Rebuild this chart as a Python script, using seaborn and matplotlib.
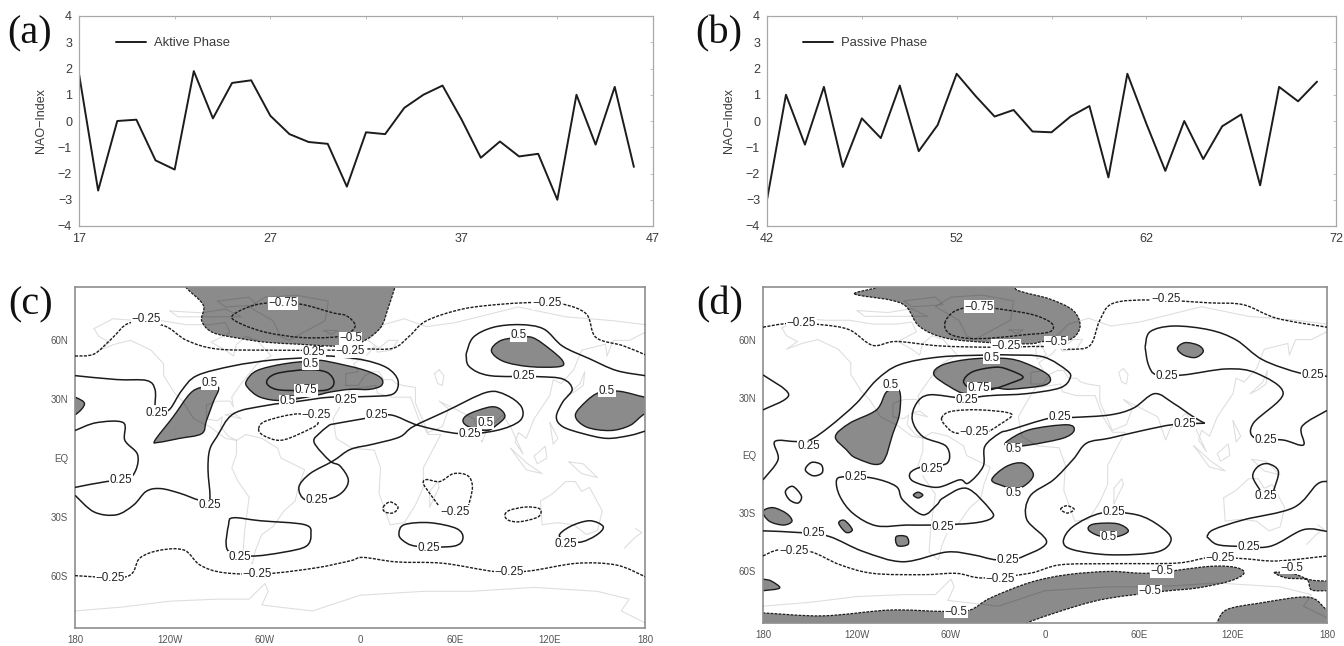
import pandas as pd
import seaborn as sns
import matplotlib.pyplot as plt
from matplotlib.path import Path
from matplotlib.patches import PathPatch

# NAO index time series
aktive_years = list(range(17, 47))
aktive_nao = [1.8, -2.65, 0.0, 0.05, -1.5, -1.85, 1.9, 0.1, 1.45, 1.55, 0.2, -0.5, -0.8, -0.87, -2.5,
              -0.43, -0.5, 0.5, 1.0, 1.35, 0.05, -1.4, -0.78, -1.35, -1.25, -3.0, 1.0, -0.9, 1.3, -1.75]
passive_years = list(range(42, 72))
passive_nao = [-3.0, 1.0, -0.9, 1.3, -1.75, 0.1, -0.65, 1.35, -1.15, -0.15, 1.8, 0.95, 0.17, 0.42, -0.4,
               -0.43, 0.17, 0.57, -2.15, 1.8, -0.1, -1.9, 0.0, -1.45, -0.2, 0.25, -2.45, 1.3, 0.75, 1.5]

lon_ticks = [-180, -120, -60, 0, 60, 120, 180]
lon_labels = ["180", "120W", "60W", "0", "60E", "120E", "180"]
lat_ticks = [60, 30, 0, -30, -60]
lat_labels = ["60N", "30N", "EQ", "30S", "60S"]

# rough coastlines (lon, lat)
coastlines = [
    [(-168, 66), (-156, 71), (-140, 70), (-125, 70), (-110, 68), (-95, 68), (-85, 69), (-82, 64), (-94, 59), (-85, 55),
     (-80, 52), (-78, 58), (-72, 62), (-65, 60), (-56, 52), (-65, 48), (-70, 43), (-75, 38), (-81, 31), (-80, 26),
     (-82, 29), (-90, 29), (-97, 27), (-97, 20), (-90, 19), (-87, 21), (-88, 16), (-83, 11), (-78, 9), (-85, 10),
     (-95, 16), (-105, 20), (-112, 29), (-117, 33), (-124, 42), (-124, 48), (-132, 55), (-145, 60), (-155, 58),
     (-165, 55), (-158, 59), (-165, 62), (-168, 66)],
    [(-78, 9), (-72, 12), (-62, 10), (-52, 5), (-50, 0), (-35, -6), (-39, -15), (-41, -22), (-48, -27), (-55, -35),
     (-62, -39), (-66, -47), (-68, -54), (-74, -50), (-73, -38), (-70, -20), (-77, -12), (-81, -5), (-78, 2), (-78, 9)],
    [(-45, 60), (-22, 70), (-20, 80), (-40, 83), (-60, 82), (-70, 77), (-55, 70), (-50, 62), (-45, 60)],
    [(-6, 35), (10, 37), (11, 33), (20, 31), (32, 31), (37, 20), (43, 12), (51, 12), (40, -5), (40, -15), (35, -24),
     (28, -33), (19, -34), (12, -18), (13, -5), (9, 4), (-5, 5), (-15, 10), (-17, 20), (-10, 30), (-6, 35)],
    [(-9, 37), (-9, 43), (-1, 44), (-4, 48), (5, 53), (9, 57), (11, 54), (20, 55), (24, 60), (18, 60), (12, 56), (5, 60),
     (15, 68), (28, 71), (42, 67), (60, 69), (75, 72), (100, 77), (130, 72), (160, 70), (180, 68)],
    [(180, 64), (170, 60), (160, 60), (156, 52), (155, 58), (140, 55), (135, 45), (127, 38), (122, 40), (120, 32),
     (110, 20), (105, 10), (100, 13), (98, 8), (103, 2), (95, 16), (90, 22), (80, 14), (77, 8), (72, 20), (60, 25),
     (50, 29), (56, 25), (52, 16), (43, 13), (35, 28), (35, 36), (27, 37), (23, 38), (20, 40), (15, 40), (12, 44),
     (8, 44), (3, 42), (-1, 37), (-9, 37)],
    [(114, -22), (122, -18), (130, -12), (136, -12), (140, -17), (145, -15), (153, -27), (150, -37), (143, -39),
     (135, -34), (125, -33), (115, -34), (114, -22)],
    [(-180, -78), (-150, -76), (-120, -73), (-90, -72), (-70, -72), (-60, -64), (-58, -68), (-62, -75), (-30, -78),
     (0, -70), (40, -68), (70, -68), (110, -66), (150, -68), (170, -72), (165, -78), (180, -84)],
    [(-5, 50), (1, 52), (-3, 58), (-6, 55), (-5, 50)],
    [(131, 32), (136, 34), (141, 37), (142, 44), (139, 38), (131, 32)],
    [(44, -25), (50, -15), (49, -12), (44, -17), (44, -25)],
    [(167, -46), (173, -41), (178, -38), (174, -36)],
    [(95, 5), (105, -6), (115, -8), (106, -3), (95, 5)],
    [(110, 1), (117, 6), (118, 0), (112, -3), (110, 1)],
    [(132, -2), (141, -3), (150, -10), (140, -8), (132, -2)],
    [(120, 18), (125, 10), (122, 7), (120, 18)],
    [(-120, 75), (-100, 74), (-85, 76), (-75, 72), (-90, 72), (-115, 72), (-120, 75)],
    [(-90, 80), (-70, 82), (-65, 78), (-85, 77), (-90, 80)],
    [(-23, 65), (-14, 65), (-18, 63), (-23, 65)],
    [(50, 45), (53, 42), (52, 37), (49, 38), (47, 43), (50, 45)],
    [(-85, 22), (-75, 20), (-80, 23), (-85, 22)],
]

# panel (c) contours (lon, lat), shapes on the map edge run past it and get clipped
c_fill_neg = [
    [(-118, 95), (-110, 87), (-99, 78), (-100, 70), (-93, 64), (-76, 61), (-59, 59), (-38, 58), (-17, 57), (-8, 57.5), (2, 59.5),
     (13, 66.5), (18, 77), (22, 87), (25, 95)],
]
c_fill_pos = [
    [(-190, 33), (-180, 31), (-174, 27.6), (-180, 22), (-190, 20)],
    [(-129.5, 9), (-118, 21), (-107.5, 32.7), (-100, 36), (-89.5, 36), (-92.7, 28.5), (-97, 19), (-100, 12.4), (-114, 10), (-127, 8)],
    [(-71.6, 39.5), (-65, 44.6), (-48, 48), (-27.6, 49.7), (-19, 49), (2, 45), (13, 41), (13.6, 37), (6, 35), (-6.4, 35),
     (-19, 33.6), (-27.6, 32), (-48.4, 29.3), (-63, 31), (-71, 36)],
    [(65, 19), (69, 22.5), (82, 26), (88.4, 25), (91.5, 21), (86, 16.6), (80, 14), (69, 15.8)],
    [(83, 54.6), (88.4, 59.7), (99, 61.4), (109, 61.4), (120, 55.5), (128, 49.5), (126, 46.6), (107, 46.6), (90.5, 49.3)],
    [(136, 21.7), (143, 29), (151.5, 33.5), (164, 34), (180, 31), (190, 30), (190, 23), (180, 22.5), (170.5, 16.6), (158, 14), (143, 15.8)],
]
c_closed = [
    [(-59, 38.6), (-53, 43), (-33.7, 45), (-21, 43.7), (-16.4, 38.6), (-21, 34.7), (-38, 34.4), (-53, 35)],
    [(24.6, -38.5), (28, -34), (44, -33), (61, -36), (65, -41), (59, -45), (35.7, -45), (27, -42)],
    [(126, -40), (132.6, -35), (145, -32), (153.6, -35), (149, -39.5), (138, -43)],
    [(-83.6, -47), (-83, -34), (-80, -30.5), (-63, -32), (-35, -34), (-31, -39), (-34, -45), (-48, -48), (-69, -50)],
]
c_open = [
    [(-180, 42), (-153.7, 40), (-134.7, 39.5), (-129.5, 35), (-129.5, 27)],
    [(-126, 23), (-120, 25), (-112.6, 34.4), (-103, 42), (-80, 47), (-55, 50), (-27.6, 51.4), (-19, 52), (2, 50), (17, 46),
     (24, 39.5), (21, 32.7), (6, 31.4), (-19, 31), (-38, 29), (-59, 26.8), (-80, 22.5), (-90.5, 10.7), (-95, 4), (-96, -6),
     (-95, -21.5), (-101.6, -21.5), (-113.7, -18), (-126, -15.6), (-135, -17), (-143, -24), (-154, -29), (-168, -27.5), (-180, -19)],
    [(-180, 14), (-166.5, 18), (-149.5, 18), (-148.5, 9), (-140.6, 2), (-141.5, -6), (-147.4, -11.4), (-160, -12), (-180, -15)],
    [(-19, 17), (2, 20), (19, 22), (37, 16.6), (63, 12.4), (86, 14), (101, 19), (102, 26), (92.5, 32), (80, 33.5), (54.7, 24),
     (33.6, 16), (25, 10.7), (8, 7), (-6, 4.4), (-17, -1.5), (-31.6, -8), (-38.6, -15), (-34, -21.5), (-19, -20.7), (-10.6, -17),
     (-7.4, -11), (-12.7, -4), (-19, -1.5), (-29, 8), (-25, 13), (-19, 17)],
    [(67, 53), (71.5, 61.5), (84, 66.6), (101, 68), (116, 65.8), (128, 57), (145, 50.6), (162, 44.6), (180, 42)],
    [(67, 53), (69, 46.6), (82, 42), (111.5, 41.5), (128, 40.3), (134, 35), (128, 28.5), (124, 21), (128, 16), (141, 12.4),
     (156, 10), (170.5, 11.5), (180, 13.7)],
]
c_dashed_closed = [
    [(-81, 72), (-72, 76.5), (-59, 79), (-38, 78.5), (-17, 74), (-8.5, 72.5), (-3, 67.5), (-8.5, 63), (-19, 61.5), (-38, 61.5), (-59, 64), (-74, 68)],
    [(-64, 15), (-59, 19), (-38, 22.5), (-26.4, 18), (-38, 12.4), (-50.5, 9), (-61, 11.5)],
    [(14.7, -25), (19, -22.4), (24, -25), (21, -28), (15.7, -27.5)],
    [(91.5, -29), (94.7, -26.6), (105, -25), (113.6, -26), (112.6, -30), (101, -32.5), (93.6, -31.7)],
]
c_dashed_open = [
    [(-180, 52), (-168, 53), (-157, 60.7), (-145, 69), (-124, 67.5), (-109.5, 60), (-90.5, 55.6), (-59, 55), (-17, 55), (2, 55.6),
     (21, 56), (31.5, 62.4), (42, 70), (65, 76), (90.5, 78.5), (111.5, 79.3), (128, 78.5), (143, 73.4), (149, 61.5), (166, 57.3), (180, 52.7)],
    [(49.4, -24), (44, -18), (40, -13), (42, -11), (50.5, -12), (59, -8), (68, -9), (71, -15), (68, -26)],
    [(-180, -60), (-147.4, -60.5), (-139, -51), (-126, -47), (-111, -47), (-101, -54.6), (-86, -58.5), (-59, -59), (-27.6, -56), (-6, -52.4),
     (2, -50.7), (23, -53), (52.6, -53.7), (86, -58), (107, -57.6), (137, -53.7), (162, -54.6), (180, -60.5)],
]
c_labels = [
    (-135, 71, "−0.25"), (-48.5, 79, "−0.75"), (-128.5, 23, "0.25"), (-95, 38, "0.5"), (-151, -11.4, "0.25"), (-95, -24, "0.25"),
    (-27, -21.5, "0.25"), (-76, -50.7, "0.25"), (-158, -61, "−0.25"), (-65, -59, "−0.25"), (-34, 34.5, "0.75"), (-46, 29, "0.5"),
    (-29, 54, "0.25"), (-31, 48, "0.5"), (-28, 22, "−0.25"), (-6, 61, "−0.5"), (-6, 54.5, "−0.25"), (-9, 29.5, "0.25"),
    (10.5, 22, "0.25"), (69.4, 12.4, "0.25"), (79, 18, "0.5"), (100, 62.6, "0.5"), (103.5, 42, "0.25"), (156, 34.4, "0.5"),
    (118, 79, "−0.25"), (60, -27.5, "−0.25"), (43.7, -46, "0.25"), (130, -43.7, "0.25"), (94, -58, "−0.25"),
]

# panel (d) contours (lon, lat)
d_fill_neg = [
    [(-121.5, 83.6), (-107.6, 87), (-100, 92), (-25, 92), (-18, 85.7), (3, 81), (18, 75), (22.4, 66.7), (16, 60), (-1, 59), (-10, 57.8), (-35, 58.4),
     (-63, 60.7), (-80, 66.7), (-88.5, 77), (-99, 80.5)],
    [(-190, -81.5), (-180, -81.5), (-141.7, -83), (-99, -80), (-65, -80.7), (-48, -80), (-35, -73.8), (-9.5, -65.7), (14, -61.7), (41.5, -60), (67, -60.9),
     (105, -57.4), (122, -58), (127, -61), (118, -65), (97, -68.6), (75.6, -70.3), (41.5, -73.8), (20, -78), (-11.7, -86.7), (-20, -92), (-190, -92)],
    [(146.4, -60.5), (158.6, -61.2), (169, -64.3), (180, -65), (190, -65), (190, -70), (180, -70), (170, -69.5), (167, -64.3), (154, -63.4)],
    [(106, -92), (109.6, -86.7), (116, -79.8), (137, -76.4), (168, -73.3), (180, -79.8), (190, -82), (190, -92)],
]
d_fill_pos = [
    [(-133.8, 9.8), (-124.7, 16.7), (-107.6, 23.6), (-101, 33), (-93, 33.6), (-92.8, 22), (-97, 11.6), (-104.5, -4), (-120.4, -1.4), (-126.8, 3)],
    [(-71, 42), (-65, 47), (-46, 50), (-22.5, 50), (-7.4, 46), (2.8, 41), (0, 36.5), (-22, 34.3), (-33, 34.8), (-50, 32), (-61, 35.7)],
    [(-24.7, 7), (-10, 13.3), (13.9, 15.9), (18.6, 13), (11.7, 9), (-9.5, 5.5), (-22.3, 4.7)],
    [(-34, -12.6), (-24.7, -5.7), (-14, -4), (-7.4, -10), (-13.8, -16), (-22.3, -17), (-26, -16)],
    [(-84, -20.5), (-81, -19), (-78, -20.5), (-81, -22)],
    [(-180, -29), (-173.6, -27), (-165, -30), (-161.5, -34), (-167, -36), (-176, -34)],
    [(-131.7, -35), (-128, -33.6), (-123, -38.4), (-127, -39.8)],
    [(-95, -42), (-88.4, -42), (-87.4, -46), (-94, -46.7)],
    [(-190, -63), (-180, -64), (-174.7, -65), (-169.4, -68.6), (-180, -70), (-190, -71)],
    [(84.5, 55.5), (89.4, 58.4), (98, 57), (101, 53.8), (96, 50.7), (88.4, 52)],
    [(27.7, -38.4), (31, -35.5), (46, -35.3), (53.2, -39), (46, -42), (35, -41.7)],
]
d_closed = [
    [(-153, -7.4), (-149, -3.6), (-142.8, -4.8), (-142.3, -9), (-148, -10.5)],
    [(-165.7, -18.6), (-161, -16), (-155.5, -21), (-157.6, -24.6), (-163, -23)],
    [(-52, 38.3), (-46, 43.4), (-31, 45.7), (-22, 44), (-14, 40.5), (-22, 37.4), (-35, 34), (-46, 34)],
    [(-133, -12.6), (-126.6, -11), (-110, -11.7), (-95, -16), (-90.8, -23), (-78, -30.7), (-69, -25.5), (-65, -22), (-50, -17), (-35, -28),
     (-34, -32.4), (-46, -35), (-71.5, -36), (-88, -36), (-107.6, -36.4), (-122.5, -30), (-131, -21)],
    [(11.7, -44.5), (18, -36.7), (36.2, -29.8), (58.6, -30.7), (73.5, -36.7), (80.5, -43.6), (71.3, -50), (41.5, -51.4), (18, -48.8)],
]
d_open = [
    [(-180, -12.6), (-170.4, -2.2), (-172.5, 7.2), (-158.7, 7.2), (-150, 8), (-137.4, 15), (-120.4, 27), (-107.6, 39), (-92.8, 47), (-67, 51),
     (-35, 52), (-22, 52), (-1, 51), (14, 44), (16, 40), (9.6, 35), (-11.7, 32), (-35, 31), (-52, 29.7), (-73.6, 31.4), (-82, 27), (-84.7, 18.4),
     (-78, 9.8), (-63, 4.7), (-62.5, -4), (-78, -5.7), (-86, -9), (-84, -13.4), (-69, -16.5), (-54.5, -12.6), (-49, -14.3), (-39.5, -5.7),
     (-38.4, 4.7), (-29, 11.5), (-22, 13.3), (3, 19.3), (18, 19.7), (41.5, 21), (56.4, 24.5), (70, 32), (82, 27), (94.7, 20), (102, 16.7)],
    [(102, 16.7), (82, 16), (62.8, 13), (41.5, 9), (26.6, 6.4), (18, -2), (5.4, -12.6), (-9.5, -21), (-11.7, -33), (1, -45), (-16, -53)],
    [(-180, -39), (-154.5, -40), (-137.4, -42), (-116, -49.7), (-90.6, -55), (-63, -50), (-46, -51.4), (-31, -54), (-16, -53)],
    [(-180, 41.7), (-163.6, 31.4), (-180, 23.6)],
    [(63.9, 56), (67, 64), (82, 67), (105, 65), (122, 59.8), (139, 49.5), (163, 42.6), (180, 41)],
    [(63.9, 56), (66, 47), (71.3, 41.7), (88.4, 41.7), (116, 44.8), (135, 42.6), (152, 32), (133, 16.7), (134, 9), (152, 8), (165, 5.5), (164, 15), (180, 23.3)],
    [(137.3, -18), (132.6, -10.9), (136, -5.7), (142.6, -4.3), (149, -8.3), (146, -18)],
    [(103.3, -42), (107.5, -38.4), (126.7, -33.3), (158.6, -27), (173.5, -15), (180, -13.4)],
    [(103.3, -42), (109.6, -46), (122.4, -47), (143.7, -47), (165, -38.4), (180, -39.3)],
]
d_dashed_closed = [
    [(-64, 68.4), (-58, 74.5), (-45, 77), (-24.7, 75.3), (-7, 72.7), (4.3, 68.4), (3, 64), (-14, 62.4), (-35, 60.7), (-50, 60.7), (-61, 63)],
    [(-66, 19.3), (-60, 22.8), (-41.7, 23.6), (-21.5, 21.5), (-29, 16), (-39.5, 11.6), (-56.6, 11.6), (-63, 15)],
    [(10, -27.8), (13.9, -26), (18.6, -27.8), (14.3, -29.8)],
]
d_dashed_open = [
    [(-180, 66.4), (-163, 68.4), (-141.7, 67.6), (-124.7, 65), (-110, 57), (-95, 59), (-67, 56.7), (-31, 56), (-1, 56.4), (16, 55), (28.8, 57),
     (35, 70), (43.6, 78.8), (69, 80.5), (105, 79), (126.7, 78), (148, 71), (180, 66.4)],
    [(-180, -52), (-169.4, -48.8), (-150, -49.7), (-131, -56.5), (-110, -61), (-78, -61.7), (-56.6, -61), (-39.6, -63.4), (-10, -61), (9.6, -56.6),
     (41.5, -56), (84, -55.7), (105, -52.8), (126.7, -53.4), (148, -54.6), (180, -52)],
]
d_labels = [
    (-155.5, 68.4, "−0.25"), (-42, 77, "−0.75"), (-24.7, 56.7, "−0.25"), (-34, 50.5, "0.5"), (-98.5, 36.5, "0.5"), (-42, 34.8, "0.75"),
    (-50, 28.8, "0.25"), (-45.5, 12, "−0.25"), (-151, 4.7, "0.25"), (-20, 3.3, "0.5"), (-72.5, -7, "0.25"), (-121, -11, "0.25"),
    (-20, -19.5, "0.5"), (-65, -37, "0.25"), (-147.6, -40, "0.25"), (-160, -49.3, "−0.25"), (-24, -54, "0.25"), (-28.5, -64, "−0.25"),
    (-56.6, -81, "−0.5"), (7, 58.5, "−0.5"), (9.6, 20, "0.25"), (89, 16.4, "0.25"), (77.7, 41, "0.25"), (171, 41.7, "0.25"),
    (141, 8, "0.25"), (141, -21, "0.25"), (43.7, -29, "0.25"), (40.5, -42.4, "0.5"), (130, -47.4, "0.25"), (112, -53, "−0.25"),
    (74.5, -60, "−0.5"), (67, -70.3, "−0.5"), (157.5, -58, "−0.5"), (77, 81, "−0.25"),
]

W, H = 1344, 646
GREY_FILL = "#8b8b8b"
INK = "#1c1c1c"
TEXT = "#3a3a3a"
FRAME = "#8e8e8e"


def add_panel(fig, left, right, top, bottom):
    return fig.add_axes([left / W, 1 - bottom / H, (right - left) / W, (bottom - top) / H])


def smooth_path(points, closed):
    # bezier segments through the read points, so the contours stay round
    n = len(points)
    verts, codes = [points[0]], [Path.MOVETO]
    for i in range(n if closed else n - 1):
        if closed:
            p0, p1, p2, p3 = points[i - 1], points[i], points[(i + 1) % n], points[(i + 2) % n]
        else:
            p0, p1, p2, p3 = points[max(i - 1, 0)], points[i], points[i + 1], points[min(i + 2, n - 1)]
        c1 = (p1[0] + (p2[0] - p0[0]) / 6, p1[1] + (p2[1] - p0[1]) / 6)
        c2 = (p2[0] - (p3[0] - p1[0]) / 6, p2[1] - (p3[1] - p1[1]) / 6)
        verts += [c1, c2, p2]
        codes += [Path.CURVE4, Path.CURVE4, Path.CURVE4]
    return Path(verts, codes)


def draw_series(ax, years, values, label, x_major, legend_x):
    df = pd.DataFrame({"year": years, "nao": values})
    sns.lineplot(data=df, x="year", y="nao", ax=ax, color=INK, linewidth=1.4, label=label)
    ax.set_xlim(x_major[0], x_major[-1])
    ax.set_ylim(-4, 4)
    ax.set_xticks(x_major)
    ax.set_xticks([x + 5 for x in x_major[:-1]], minor=True)
    ax.set_yticks(range(-4, 5))
    ax.set_yticklabels(["−4", "−3", "−2", "−1", "0", "1", "2", "3", "4"])
    ax.set_xlabel("")
    ax.set_ylabel("NAO−Index", fontsize=9, color=TEXT, labelpad=8)
    ax.tick_params(axis="both", which="both", direction="in", length=2, width=0.6, color="#b5b5b5",
                   labelsize=9, labelcolor=TEXT, top=True, right=True, pad=5)
    for spine in ax.spines.values():
        spine.set_color("#a8a8a8")
        spine.set_linewidth(0.9)
    ax.legend(loc="upper left", bbox_to_anchor=(legend_x, 0.90), frameon=False, fontsize=9.4, handlelength=2.3,
              handletextpad=0.6, labelcolor=TEXT, borderaxespad=0, borderpad=0)


def draw_map(ax, fill_pos, fill_neg, closed, opened, dash_closed, dash_open, labels):
    parts = []
    for i, line in enumerate(coastlines):
        parts.append(pd.DataFrame(line, columns=["lon", "lat"]).assign(part=i))
    coast = pd.concat(parts)
    for part, group in coast.groupby("part"):
        sns.lineplot(data=group, x="lon", y="lat", ax=ax, sort=False, estimator=None, color="black", alpha=0.13,
                     linewidth=0.8, zorder=3)
    dash = (0, (2.2, 1))
    for poly in fill_pos:
        ax.add_patch(PathPatch(smooth_path(poly, True), fc=GREY_FILL, ec=INK, lw=1.0, zorder=2))
    for poly in fill_neg:
        ax.add_patch(PathPatch(smooth_path(poly, True), fc=GREY_FILL, ec=INK, lw=0.9, ls=dash, zorder=2))
    for poly in closed:
        ax.add_patch(PathPatch(smooth_path(poly, True), fc="none", ec=INK, lw=1.1, zorder=4))
    for poly in opened:
        ax.add_patch(PathPatch(smooth_path(poly, False), fc="none", ec=INK, lw=1.1, zorder=4))
    for poly in dash_closed:
        ax.add_patch(PathPatch(smooth_path(poly, True), fc="none", ec=INK, lw=1.0, ls=dash, zorder=4))
    for poly in dash_open:
        ax.add_patch(PathPatch(smooth_path(poly, False), fc="none", ec=INK, lw=1.0, ls=dash, zorder=4))
    for lon, lat, text in labels:
        ax.text(lon, lat, text, fontsize=8.4, color="#222222", ha="center", va="center", zorder=6,
                bbox=dict(fc="white", ec="none", pad=0.3))
    ax.set_xlim(-180, 180)
    ax.set_ylim(-86.7, 87.2)
    ax.set_xticks(lon_ticks)
    ax.set_xticklabels(lon_labels)
    ax.set_yticks(lat_ticks)
    ax.set_yticklabels(lat_labels)
    ax.set_xlabel("")
    ax.set_ylabel("")
    ax.tick_params(axis="x", direction="in", length=2, width=0.7, color=FRAME, labelsize=7, labelcolor="#555555", pad=5)
    ax.tick_params(axis="y", direction="out", length=3, width=0.7, color=FRAME, labelsize=7, labelcolor="#555555", pad=2)
    for spine in ax.spines.values():
        spine.set_color(FRAME)
        spine.set_linewidth(1.2)


sns.set_theme(style="white")
plt.rcParams["font.family"] = ["Liberation Sans", "DejaVu Sans"]
plt.rcParams["axes.unicode_minus"] = True

fig = plt.figure(figsize=(W / 100, H / 100), dpi=100)

ax_a = add_panel(fig, 79, 653, 16, 226)
ax_b = add_panel(fig, 767, 1336, 16, 226)
ax_c = add_panel(fig, 75, 645, 287, 628)
ax_d = add_panel(fig, 763, 1327, 287, 623)

draw_series(ax_a, aktive_years, aktive_nao, "Aktive Phase", [17, 27, 37, 47], 0.064)
draw_series(ax_b, passive_years, passive_nao, "Passive Phase", [42, 52, 62, 72], 0.064)
draw_map(ax_c, c_fill_pos, c_fill_neg, c_closed, c_open, c_dashed_closed, c_dashed_open, c_labels)
draw_map(ax_d, d_fill_pos, d_fill_neg, d_closed, d_open, d_dashed_closed, d_dashed_open, d_labels)

for letter, x, y in [("(a)", 7, 43), ("(b)", 695, 43), ("(c)", 8, 314), ("(d)", 696, 314)]:
    fig.text(x / W, 1 - y / H, letter, fontsize=29, family="Liberation Serif", color="#111111", ha="left", va="baseline")

fig.savefig("out.png", dpi=100)
